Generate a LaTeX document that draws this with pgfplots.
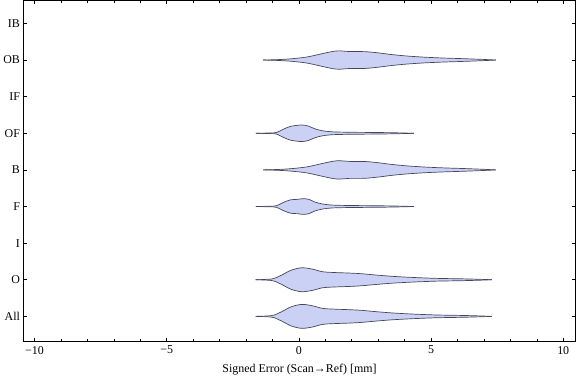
\documentclass[border=0pt]{standalone}
\usepackage{fontspec}
\setmainfont{Liberation Serif}
\usepackage{pgfplots}
\pgfplotsset{compat=1.18}
\usepackage{pgfplotstable}
\usepgfplotslibrary{fillbetween}
\definecolor{vfill}{RGB}{203,209,245}
\definecolor{vedge}{RGB}{70,70,90}

% half-widths in category units
\pgfplotstableread{
x w
-1.35 0
-0.80 0.011
-0.30 0.033
0.30 0.082
0.90 0.177
1.30 0.237
1.55 0.251
1.90 0.232
2.50 0.229
3.00 0.196
3.50 0.150
4.10 0.109
4.80 0.076
5.50 0.054
6.20 0.038
7.00 0.016
7.45 0
}\OBdata

\pgfplotstableread{
x w
-1.35 0
-0.80 0.011
-0.30 0.033
0.30 0.082
0.90 0.177
1.30 0.237
1.55 0.251
1.90 0.232
2.50 0.229
3.00 0.196
3.50 0.150
4.10 0.109
4.80 0.076
5.50 0.054
6.20 0.038
7.00 0.016
7.45 0
}\Bdata

\pgfplotstableread{
x w
-1.63 0
-1.10 0.008
-0.85 0.022
-0.55 0.123
-0.30 0.191
0.10 0.226
0.35 0.199
0.60 0.123
0.90 0.068
1.30 0.038
2.00 0.027
2.80 0.022
3.60 0.014
4.35 0
}\OFdata

\pgfplotstableread{
x w
-1.63 0
-1.10 0.008
-0.85 0.022
-0.55 0.123
-0.30 0.185
-0.05 0.195
0.15 0.215
0.38 0.195
0.60 0.123
0.90 0.068
1.30 0.038
2.00 0.027
2.80 0.022
3.60 0.014
4.35 0
}\Fdata

\pgfplotstableread{
x w
-1.64 0
-1.20 0.011
-0.95 0.033
-0.65 0.128
-0.30 0.259
0.10 0.327
0.50 0.292
0.90 0.218
1.30 0.199
2.00 0.180
2.40 0.163
2.80 0.136
3.50 0.095
4.25 0.065
5.20 0.038
6.20 0.025
6.90 0.011
7.30 0
}\Odata

\pgfplotstableread{
x w
-1.64 0
-1.20 0.011
-0.95 0.033
-0.65 0.128
-0.30 0.259
0.10 0.327
0.50 0.292
0.90 0.218
1.30 0.199
2.00 0.180
2.40 0.163
2.80 0.136
3.50 0.095
4.25 0.065
5.20 0.038
6.20 0.025
6.90 0.011
7.30 0
}\Alldata

\newcommand\violin[3]{%
  \addplot[name path=#3u, draw=none, smooth, tension=0.5, forget plot] table[x=x, y expr=#2+\thisrow{w}] {#1};
  \addplot[name path=#3l, draw=none, smooth, tension=0.5, forget plot] table[x=x, y expr=#2-\thisrow{w}] {#1};
  \addplot[fill=vfill, draw=none, forget plot] fill between[of=#3u and #3l];
  \addplot[draw=vedge, line width=0.7pt, smooth, tension=0.5, forget plot] table[x=x, y expr=#2+\thisrow{w}] {#1};
  \addplot[draw=vedge, line width=0.7pt, smooth, tension=0.5, forget plot] table[x=x, y expr=#2-\thisrow{w}] {#1};
}

\begin{document}
\begin{tikzpicture}
\begin{axis}[
  width=555pt, height=343pt, scale only axis,
  xmin=-10.42, xmax=10.47, ymin=0.31, ymax=9.63,
  xtick={-10,-5,0,5,10}, xticklabels={−10,−5,0,5,10},
  minor x tick num=4,
  ytick={1,...,9}, yticklabels={All,O,I,F,B,OF,IF,OB,IB},
  tick align=inside,
  major tick length=4pt, minor tick length=2.5pt,
  tick style={black, line width=0.6pt},
  axis line style={black, line width=0.7pt},
  tick label style={font=\fontsize{12}{14}\selectfont},
  xticklabel style={yshift=-1pt},
  label style={font=\fontsize{12}{14}\selectfont},
  xlabel={Signed Error (Scan→Ref) [mm]},
  xlabel style={yshift=-3pt},
  clip=false,
]
\violin{\Alldata}{1}{va}
\violin{\Odata}{2}{vo}
\violin{\Fdata}{4}{vf}
\violin{\Bdata}{5}{vb}
\violin{\OFdata}{6}{vof}
\violin{\OBdata}{8}{vob}
\end{axis}
\end{tikzpicture}
\end{document}
